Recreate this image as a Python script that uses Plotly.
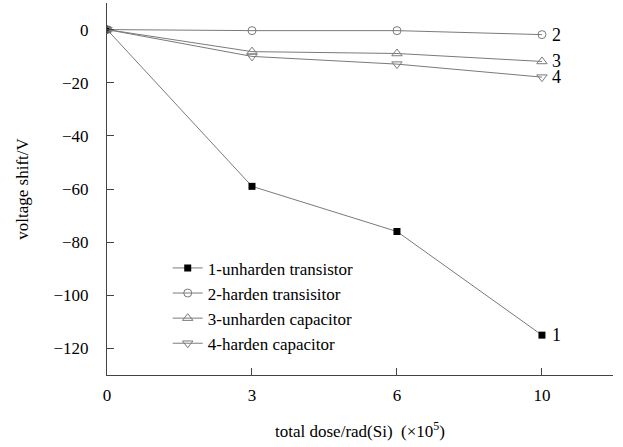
import plotly.graph_objects as go

dose_labels = ["0", "3", "6", "10"]
unharden_transistor = [0, -59.0, -76.0, -115.0]
harden_transistor = [0, -0.4, -0.4, -1.9]
unharden_capacitor = [0, -8.3, -9.0, -12.0]
harden_capacitor = [0, -10.1, -13.0, -17.9]
series_names = ["1-unharden transistor", "2-harden transisitor",
                "3-unharden capacitor", "4-harden capacitor"]
end_labels = ["1", "2", "3", "4"]

pos = list(range(len(dose_labels)))
FONT = "Liberation Serif"
LINE = "#7a7a7a"
TXT = dict(family=FONT, size=17, color="black")

fig = go.Figure()
specs = [
    (unharden_transistor, dict(symbol="square", size=7, color="black", line=dict(width=0))),
    (harden_transistor, dict(symbol="circle-open", size=8, color=LINE, line=dict(width=1))),
    (unharden_capacitor, dict(symbol="triangle-up-open", size=9, color=LINE, line=dict(width=1))),
    (harden_capacitor, dict(symbol="triangle-down-open", size=9, color=LINE, line=dict(width=1))),
]
for (vals, mk), name in zip(specs, series_names):
    fig.add_trace(go.Scatter(x=pos, y=vals, mode="lines+markers", name=name,
                             line=dict(color=LINE, width=1), marker=mk))

for vals, lab in zip([unharden_transistor, harden_transistor, unharden_capacitor, harden_capacitor], end_labels):
    fig.add_annotation(x=pos[-1], y=vals[-1], text=lab, showarrow=False,
                       xanchor="left", xshift=8, font=dict(family=FONT, size=18, color="black"))

fig.update_layout(
    width=623, height=447,
    margin=dict(l=107, r=10, t=3, b=72),
    paper_bgcolor="white", plot_bgcolor="white",
    font=TXT,
    showlegend=True,
    legend=dict(x=0.12, y=0.335, xanchor="left", yanchor="top",
                bgcolor="rgba(0,0,0,0)", font=TXT,
                itemwidth=30, tracegroupgap=0),
)
fig.update_xaxes(range=[0, 3.49], tickvals=pos, ticktext=dose_labels, automargin=False,
                 tickfont=TXT, ticklabelstandoff=5,
                 showgrid=False, zeroline=False, showline=True, linecolor="#444",
                 linewidth=1, ticks="inside", ticklen=7, tickcolor="#444",
                 title=dict(text="total dose/rad(Si)  (×10<sup>5</sup>)", standoff=20, font=TXT))
fig.update_yaxes(range=[-130, 10], tickvals=[0, -20, -40, -60, -80, -100, -120],
                 ticktext=["0", "−20", "−40", "−60", "−80", "−100", "−120"], automargin=False,
                 tickfont=TXT, ticklabelstandoff=14,
                 showgrid=False, zeroline=False, showline=True, linecolor="#444",
                 linewidth=1, ticks="inside", ticklen=7, tickcolor="#444",
                 title=dict(text="voltage shift/V", standoff=20, font=TXT))

fig.write_html("out.html", config={"displayModeBar": False},
               post_script="document.body.style.margin='0';document.body.style.overflow='hidden';")
